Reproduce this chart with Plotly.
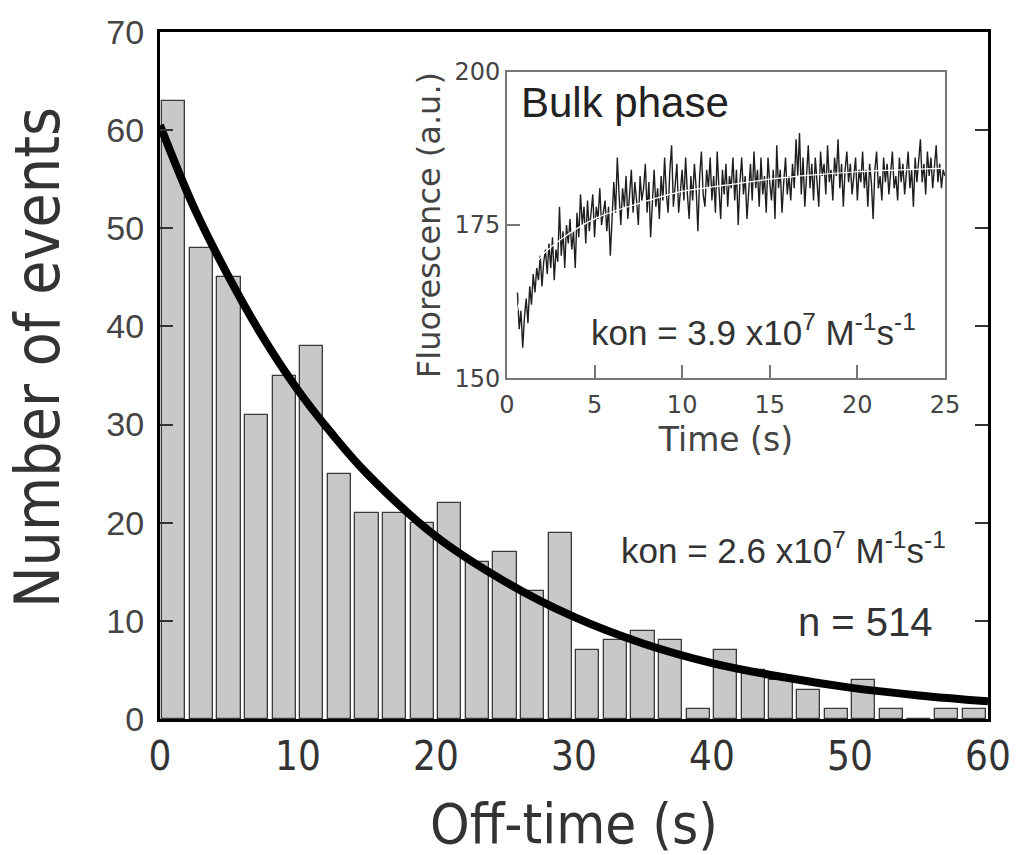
import numpy as np
import plotly.graph_objects as go

# ---------------- main histogram data ----------------
bin_width = 2
bin_centers = np.arange(1, 60, 2)
counts = [63, 48, 45, 31, 35, 38, 25, 21, 21, 20,
          22, 16, 17, 13, 19, 7, 8, 9, 8, 1,
          7, 5, 4, 3, 1, 4, 1, 0, 1, 1]

# fitted exponential
fit_t = [0, 2.5, 5, 7.5, 10, 12.5, 15, 20, 25, 30, 35, 40, 45, 50, 55, 60]
fit_y = [60.5, 52.0, 45.0, 38.8, 33.5, 29.0, 25.0, 18.6, 14.0, 10.4, 7.7, 5.7, 4.3, 3.2, 2.4, 1.8]

main_yticks = [0, 10, 20, 30, 40, 50, 60, 70]
main_xticks = [0, 10, 20, 30, 40, 50, 60]

# ---------------- inset data ----------------
inset_t0 = 0.6
inset_dt = 0.1
inset_vals = [
    164, 158, 161, 155, 160, 163, 159, 165, 162, 167,
    164, 168, 166, 170, 165, 169, 171, 167, 172, 168,
    173, 166, 171, 169, 178, 170, 174, 168, 175, 172,
    176, 171, 174, 168, 177, 173, 180, 175, 178, 172,
    179, 174, 177, 180, 173, 178, 176, 181, 175, 177,
    179, 174, 178, 170, 176, 182, 177, 186, 180, 175,
    181, 178, 183, 176, 180, 184, 177, 182, 179, 175,
    183, 179, 181, 185, 177, 182, 173, 180, 184, 178,
    181, 176, 183, 179, 186, 180, 177, 184, 188, 178,
    182, 185, 177, 181, 184, 179, 186, 180, 176, 183,
    179, 185, 181, 174, 183, 187, 180, 178, 184, 181,
    186, 179, 183, 177, 187, 181, 176, 184, 180, 185,
    178, 183, 181, 186, 179, 184, 175, 182, 186, 180,
    183, 176, 181, 185, 179, 187, 181, 184, 178, 186,
    180, 183, 177, 186, 182, 179, 184, 176, 188, 181,
    184, 177, 182, 186, 180, 183, 179, 185, 181, 189,
    183, 190, 180, 186, 178, 184, 188, 181, 185, 179,
    186, 182, 178, 187, 183, 185, 180, 188, 182, 184,
    179, 186, 183, 189, 181, 185, 178, 184, 187, 182,
    185, 180, 183, 186, 179, 184, 182, 187, 181, 184,
    178, 185, 182, 176, 184, 187, 181, 183, 179, 186,
    182, 185, 180, 184, 187, 181, 183, 179, 186, 182,
    185, 180, 183, 187, 181, 184, 178, 186, 182, 185,
    189, 182, 185, 180, 187, 183, 186, 181, 184, 188,
    182, 185, 181, 184, 183,
]
inset_t = inset_t0 + inset_dt * np.arange(len(inset_vals))

inset_fit_t = [0.6, 1, 2, 3, 5, 7.5, 10, 12.5, 15, 17.5, 20, 22.5, 25]
inset_fit_y = [161, 165, 170, 172.5, 176, 178.5, 180.5, 181.5, 182.5, 183.2, 183.7, 184, 184.3]

inset_yticks = [150, 175, 200]
inset_xticks = [0, 5, 10, 15, 20, 25]

TXT = "#333333"
COND = "DejaVu Sans Condensed, Liberation Sans Narrow, Liberation Sans, sans-serif"
REG = "Liberation Sans, Arial, sans-serif"
WIDE = "DejaVu Sans, sans-serif"

fig = go.Figure()

fig.add_trace(go.Bar(
    x=bin_centers, y=counts, width=bin_width * 0.84,
    marker=dict(color="#c8c8c8", line=dict(color="#3a3a3a", width=1.3)),
    xaxis="x", yaxis="y", showlegend=False,
))
fig.add_trace(go.Scatter(
    x=fit_t, y=fit_y, mode="lines", line=dict(color="black", width=8, shape="spline"),
    xaxis="x", yaxis="y", showlegend=False,
))

fig.add_trace(go.Scatter(
    x=inset_t, y=inset_vals, mode="lines", line=dict(color="#1e1e1e", width=1.4),
    xaxis="x2", yaxis="y2", showlegend=False,
))
fig.add_trace(go.Scatter(
    x=inset_fit_t, y=inset_fit_y, mode="lines", line=dict(color="white", width=1.2, shape="spline"),
    xaxis="x2", yaxis="y2", showlegend=False,
))

fig.update_layout(
    width=1017, height=855, autosize=False,
    margin=dict(l=160, r=29, t=32, b=136),
    paper_bgcolor="white", plot_bgcolor="white",
    bargap=0,
    xaxis=dict(
        range=[0, 60], domain=[0, 1], anchor="y", automargin=False,
        tickvals=main_xticks, ticks="", showgrid=False, zeroline=False,
        showline=True, linecolor="black", linewidth=3, mirror=True,
        tickfont=dict(family=COND, size=40, color=TXT),
    ),
    yaxis=dict(
        range=[0, 70], domain=[0, 1], anchor="x", automargin=False,
        tickvals=main_yticks, ticks="inside", ticklen=13, tickwidth=1.5, tickcolor="#333",
        showgrid=False, zeroline=False,
        showline=True, linecolor="black", linewidth=3, mirror="ticks",
        tickfont=dict(family=REG, size=34, color="#444"),
        ticklabelstandoff=6,
    ),
    xaxis2=dict(
        range=[0, 25], domain=[0.419, 0.948], anchor="y2", automargin=False,
        tickvals=inset_xticks, ticks="inside", ticklen=13, tickwidth=1.5, tickcolor="#777",
        showgrid=False, zeroline=False,
        showline=True, linecolor="#777", linewidth=1.5, mirror=True,
        tickfont=dict(family=WIDE, size=24, color="#444"),
        ticklabelstandoff=4,
        title=dict(text="Time (s)", font=dict(family=WIDE, size=33, color="#444"), standoff=10),
    ),
    yaxis2=dict(
        range=[150, 200], domain=[0.496, 0.942], anchor="x2", automargin=False,
        tickvals=inset_yticks, ticks="inside", ticklen=13, tickwidth=1.5, tickcolor="#777",
        showgrid=False, zeroline=False,
        showline=True, linecolor="#777", linewidth=1.5, mirror=True,
        tickfont=dict(family=WIDE, size=24, color="#444"),
        title=dict(text="Fluorescence (a.u.)", font=dict(family=WIDE, size=32, color="#444"), standoff=4),
    ),
    annotations=[
        dict(text="Off-time (s)", xref="paper", yref="paper",
             x=0.5, y=-0.152, xanchor="center", yanchor="middle", showarrow=False,
             font=dict(family=COND, size=56, color=TXT)),
        dict(text="Number of events", xref="paper", yref="paper",
             x=-0.148, y=0.526, xanchor="center", yanchor="middle", showarrow=False, textangle=-90,
             font=dict(family=COND, size=62, color=TXT)),
        dict(text="kon = 2.6 x10<sup>7</sup> M<sup>-1</sup>s<sup>-1</sup>", xref="paper", yref="paper",
             x=0.952, y=0.249, xanchor="right", yanchor="middle", showarrow=False,
             font=dict(family=REG, size=35, color=TXT)),
        dict(text="n = 514", xref="paper", yref="paper",
             x=0.936, y=0.141, xanchor="right", yanchor="middle", showarrow=False,
             font=dict(family=REG, size=40, color=TXT)),
        dict(text="Bulk phase", xref="paper", yref="paper",
             x=0.4336, y=0.898, xanchor="left", yanchor="middle", showarrow=False,
             font=dict(family=REG, size=42, color="#222")),
        dict(text="kon = 3.9 x10<sup>7</sup> M<sup>-1</sup>s<sup>-1</sup>", xref="paper", yref="paper",
             x=0.915, y=0.566, xanchor="right", yanchor="middle", showarrow=False,
             font=dict(family=REG, size=35, color=TXT)),
    ],
)

fig.write_html("out.html")
